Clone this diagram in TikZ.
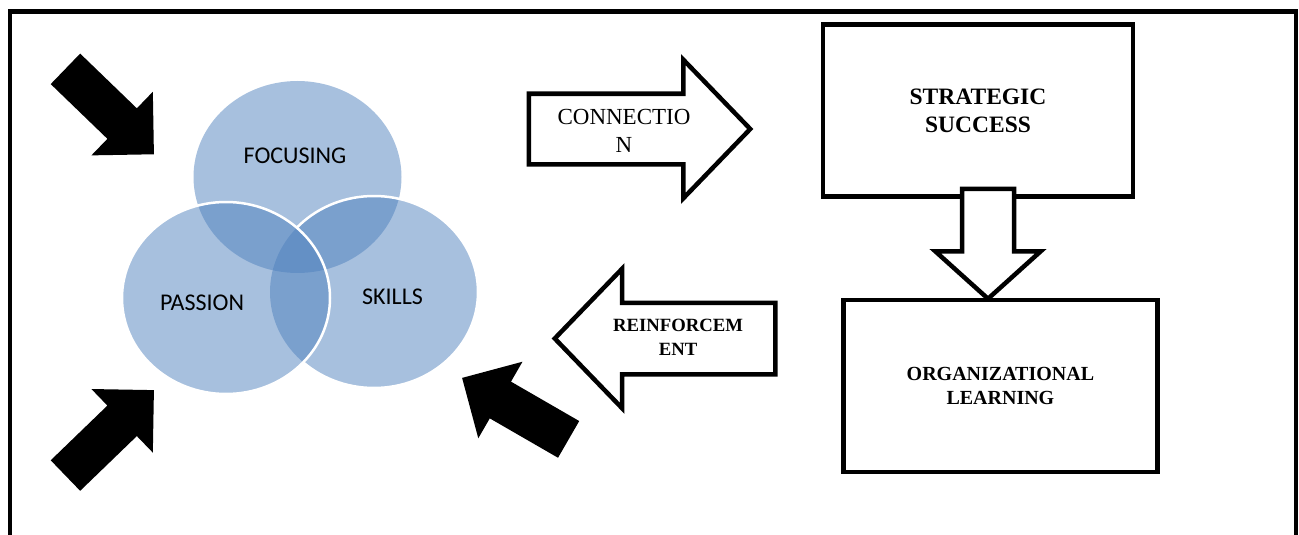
\documentclass[tikz,border=0pt]{standalone}
\usepackage{fontspec}
\setmainfont{Liberation Serif}
\newfontfamily\vennfont{Carlito}
\usetikzlibrary{shapes.arrows}

\definecolor{vennblue}{RGB}{79,129,189}

\begin{document}
\begin{tikzpicture}[x=1pt,y=-1pt,
  blockarrow/.style={single arrow,fill=black,inner xsep=0pt,inner ysep=21pt,
    single arrow head extend=23pt,single arrow tip angle=90,minimum height=123pt,anchor=tail},
  flowarrow/.style={single arrow,draw=black,fill=white,line width=4.5pt,inner xsep=0pt,anchor=tail},
  box/.style={draw=black,fill=white,line width=4.5pt,align=center},
  vennfill/.style={fill=vennblue,fill opacity=0.5},
  vennline/.style={draw=white,line width=2.5pt},
  venntext/.style={font=\vennfont\fontsize{24}{28}\selectfont}]

\path[use as bounding box,clip] (0,0) rectangle (1299,535);

% outer frame, its bottom edge runs off the page
\draw[line width=4.5pt] (10,11.3) rectangle (1296,560);

\def\rx{104pt}
\def\ry{96pt}

\coordinate (F) at (297.5,177);
\coordinate (S) at (374,292);
\coordinate (P) at (226,298);

\fill[vennfill] (F) ellipse[x radius=\rx,y radius=\ry];
\fill[vennfill] (S) ellipse[x radius=\rx,y radius=\ry];
\fill[vennfill] (P) ellipse[x radius=\rx,y radius=\ry];

%\draw[vennline] (F) ellipse[x radius=\rx,y radius=\ry];
\draw[vennline] (P) ellipse[x radius=\rx,y radius=\ry];
\begin{scope}[even odd rule]
  \clip (0,0) rectangle (1299,535) (P) ellipse[x radius=\rx,y radius=\ry];
  \draw[vennline] (S) ellipse[x radius=\rx,y radius=\ry];
\end{scope}

\node[venntext] (focus) at (295,156) {FOCUSING};
\node[venntext] (passion) at (202,303) {PASSION};
\node[venntext] (skills) at (392.5,297) {SKILLS};

% black push arrows
\node[blockarrow,rotate=-44] (pushA) at (65.3,68.7) {};
\node[blockarrow,rotate=44] (pushB) at (65.3,475.7) {};
\node[blockarrow,rotate=150] (pushC) at (568.8,439.5) {};

\node[flowarrow,inner ysep=33pt,single arrow head extend=34pt,single arrow tip angle=92,
  minimum height=221.5pt] (conn) at (526.5,129) {};
\node[font=\fontsize{23}{27.8}\selectfont,align=center] (connlbl) at (624,130.6) {CONNECTIO\\N};

\node[flowarrow,rotate=180,inner ysep=33.5pt,single arrow head extend=34pt,single arrow tip angle=92,
  minimum height=220.5pt] (reinf) at (777.5,338.5) {};
\node[font=\bfseries\fontsize{18.7}{24}\selectfont,align=center] (reinflbl) at (678,337) {REINFORCEM\\ENT};

\node[box,minimum width=310.3pt,minimum height=171.8pt,font=\bfseries\fontsize{23.5}{28.3}\selectfont]
  (strat) at (978,110.6) {STRATEGIC\\SUCCESS};
\node[box,minimum width=314.2pt,minimum height=172.3pt,font=\bfseries\fontsize{20}{24.7}\selectfont]
  (orglearn) at (1000.4,385.9) {ORGANIZATIONAL\\LEARNING};

%\draw[->] (strat)--(orglearn);
\node[flowarrow,rotate=-90,inner ysep=23.75pt,single arrow head extend=26.75pt,single arrow tip angle=96,
  minimum height=110pt] (down) at (988,186.5) {};

\end{tikzpicture}
\end{document}
